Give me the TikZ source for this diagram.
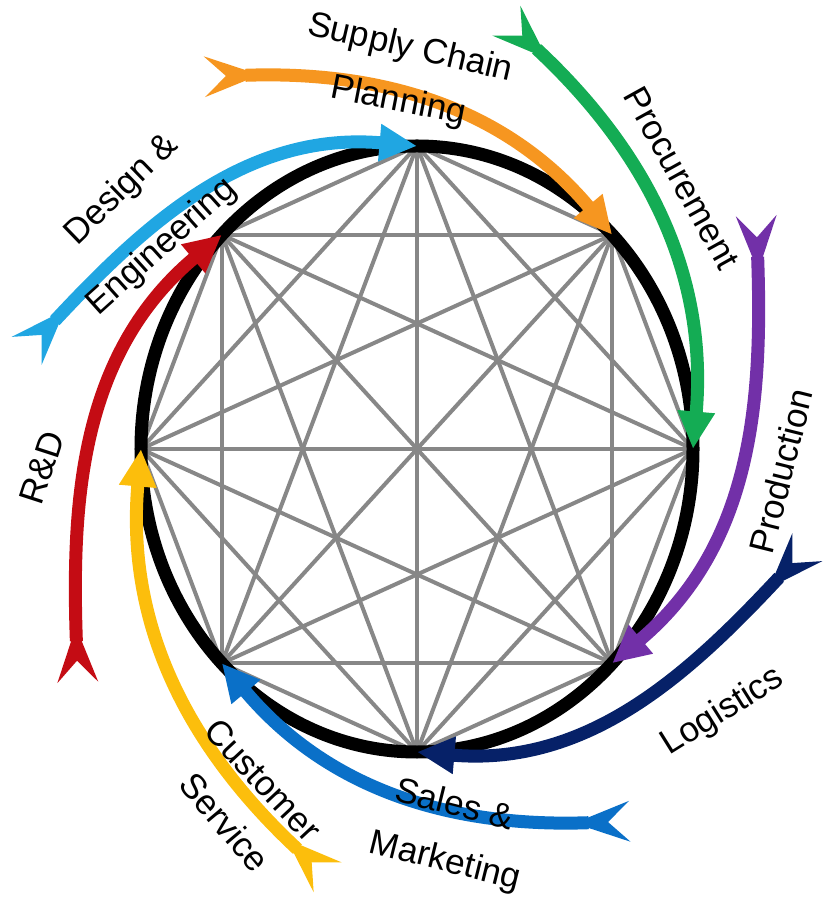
\documentclass[tikz,border=0pt]{standalone}
\usepackage{fontspec}
\setmainfont{Liberation Sans}
\usetikzlibrary{arrows.meta}

\definecolor{deblue}{RGB}{32,166,226}
\definecolor{scorange}{RGB}{246,150,32}
\definecolor{prgreen}{RGB}{20,172,84}
\definecolor{pdpurple}{RGB}{114,48,168}
\definecolor{lgnavy}{RGB}{6,33,104}
\definecolor{smblue}{RGB}{10,112,200}
\definecolor{csyellow}{RGB}{252,190,12}
\definecolor{rdred}{RGB}{196,12,20}

\begin{document}
\begin{tikzpicture}[x=0.2mm,y=0.2mm,font=\fontsize{20}{24}\selectfont,
  link/.style={draw=black!47,line width=0.8mm},
  ring/.style={draw=black,line width=2.6mm},
  flow/.style={line width=2.6mm,{Stealth[reversed,length=11mm,width=8mm,inset=4.2mm]}-{Triangle[length=7.5mm,width=7mm]}}]
\useasboundingbox (-417,-449) rectangle (406,449);
% eight functions on the ring
\foreach \i in {0,...,7} \coordinate (v\i) at ({90-45*\i}:276 and 303);
\foreach \i in {0,...,6} {
  \pgfmathtruncatemacro\n{\i+1}
  \foreach \j in {\n,...,7} \draw[link] (v\i) -- (v\j);
}
\draw[ring] (0,0) ellipse [x radius=276,y radius=303];
% hand-over arrows
\foreach \i/\c in {0/deblue,1/scorange,2/prgreen,3/pdpurple,4/lgnavy,5/smblue,6/csyellow,7/rdred} {
  \pgfmathsetmacro\h{90-45*\i}
  \coordinate (t\i) at ({\h+77}:400 and 439);
  \draw[flow,color=\c] (t\i) to[out=\h-43,in=\h+85] (v\i);
}
% labels
\node[rotate=-13] (supply) at (-7,400) {Supply Chain};
\node[rotate=-11] (planning) at (-19,347) {Planning};
\node[rotate=-61] (procure) at (265,271) {Procurement};
\node[rotate=76] (produce) at (364,-22) {Production};
\node[rotate=32] (logist) at (306,-263) {Logistics};
\node[rotate=-14] (sales) at (38,-354) {Sales \&};
\node[rotate=-14] (market) at (28,-413) {Marketing};
\node[rotate=-47] (custom) at (-154,-331) {Customer};
\node[rotate=-50] (service) at (-192,-373) {Service};
\node[rotate=72] (rnd) at (-375,-19) {R\&D};
\node[rotate=44] (design) at (-295,259) {Design \&};
\node[rotate=42] (engin) at (-255,202) {Engineering};
\end{tikzpicture}
\end{document}
